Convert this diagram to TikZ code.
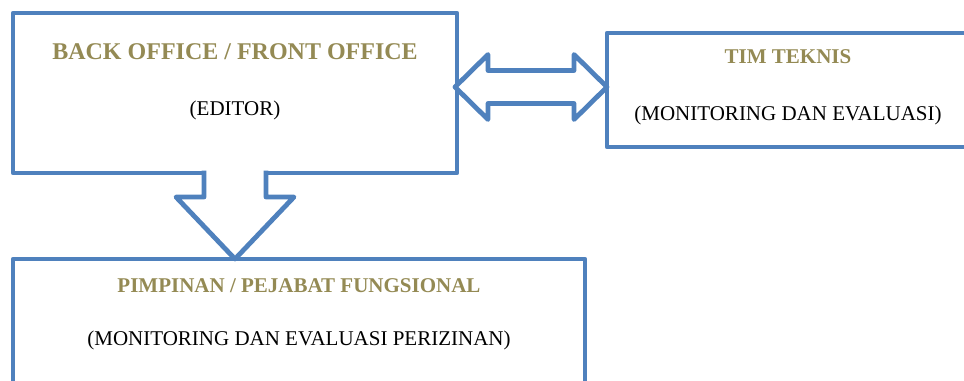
\documentclass[tikz,border=0pt]{standalone}
\usepackage{fontspec}
\setmainfont{Liberation Serif}
\usetikzlibrary{calc,positioning}
\definecolor{boxblue}{HTML}{4F81BD}
\definecolor{titleolive}{HTML}{948A54}
\begin{document}
\begin{tikzpicture}[x=0.75pt,y=-0.75pt,line join=round,line width=3.6pt]
	\tikzset{box/.style={draw=boxblue,rectangle,inner sep=0pt,outer sep=0pt},
		ttl/.style={text=titleolive,font=\fontsize{15.75}{18}\selectfont\bfseries,anchor=base,inner sep=0pt},
		bigttl/.style={ttl,font=\fontsize{18}{21}\selectfont\bfseries},
		sub/.style={font=\fontsize{15.75}{18}\selectfont,anchor=base,inner sep=0pt},
		blk/.style={draw=boxblue,fill=white,line cap=butt}}
	\useasboundingbox (0,0) rectangle (964,380);
	\clip (0,0) rectangle (964,380);
	% boxes
	\node[box,minimum width=333pt,minimum height=120pt] (back) at (235,93) {};
	\node[box,minimum width=271.5pt,minimum height=85.5pt] (tim) at (788,90) {};
	\node[box,minimum width=429pt,minimum height=120pt] (pimp) at (299,339) {};
	% texts
	\node[bigttl] (backT) at ($(back.north)+(0,46)$) {BACK OFFICE / FRONT OFFICE};
	\node[sub] (backS) at ($(back.north)+(0,102)$) {(EDITOR)};
	\node[ttl] (timT) at ($(tim.north)+(0,30)$) {TIM TEKNIS};
	\node[sub] (timS) at ($(tim.north)+(0,87)$) {(MONITORING DAN EVALUASI)};
	\node[ttl] (pimpT) at ($(pimp.north)+(0,33)$) {PIMPINAN / PEJABAT FUNGSIONAL};
	\node[sub] (pimpS) at ($(pimp.north)+(0,86)$) {(MONITORING DAN EVALUASI PERIZINAN)};
	% block arrows
	\coordinate (dtip) at (back.south |- pimp.north);
	\draw[blk] ($(back.south)+(-31,-2.4)$) -- ($(back.south)+(-31,24)$) -- ($(dtip)+(-59,-62)$) -- (dtip)
		-- ($(dtip)+(59,-62)$) -- ($(back.south)+(31,24)$) -- ($(back.south)+(31,-2.4)$);
	\coordinate (lt) at ($(back.east)+(-2,-6)$);
	\coordinate (rt) at (tim.west |- lt);
	\draw[blk] (lt) -- ($(lt)+(33,-32.5)$) -- ($(lt)+(33,-16.5)$) -- ($(rt)+(-33,-16.5)$) -- ($(rt)+(-33,-32.5)$)
		-- (rt) -- ($(rt)+(-33,32.5)$) -- ($(rt)+(-33,16.5)$) -- ($(lt)+(33,16.5)$) -- ($(lt)+(33,32.5)$) -- cycle;
\end{tikzpicture}
\end{document}
